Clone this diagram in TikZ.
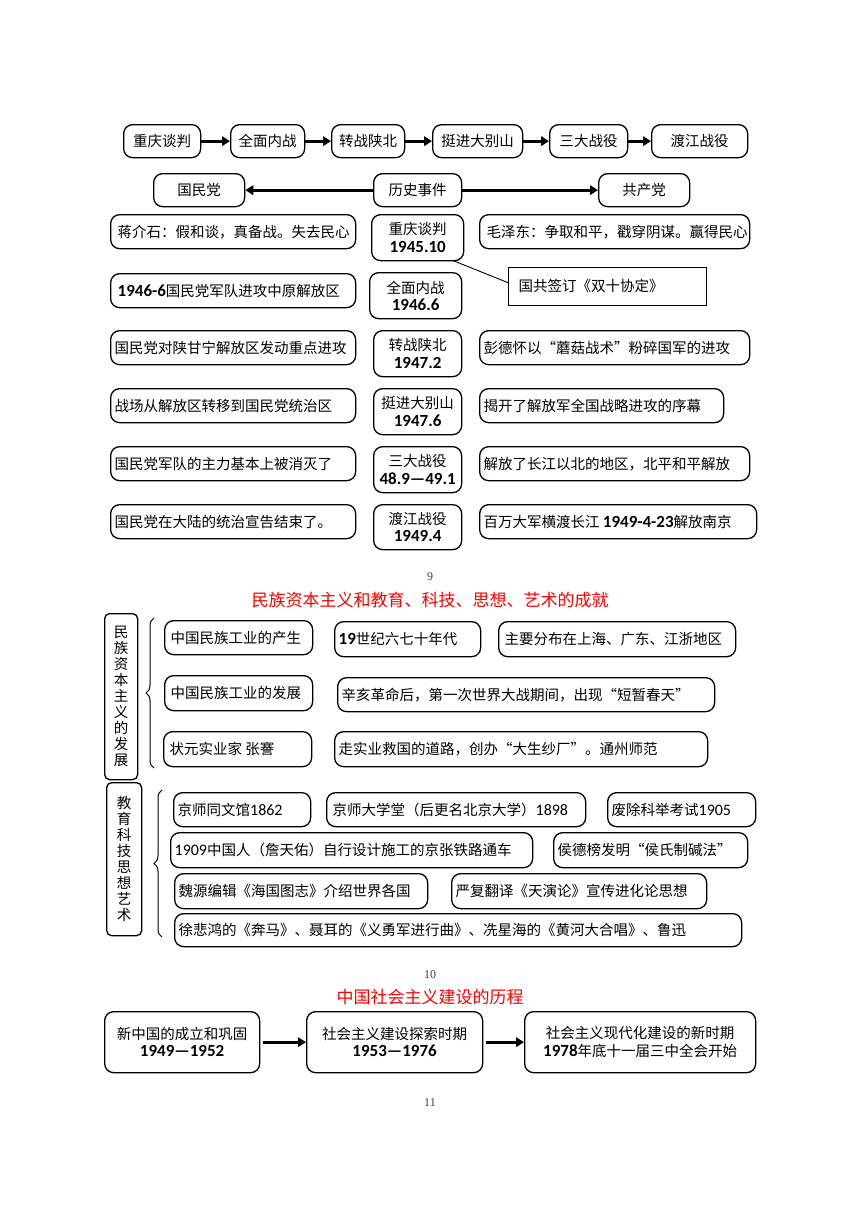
\documentclass[tikz,border=0pt]{standalone}
\usepackage{fontspec}
\setmainfont{Noto Sans CJK SC}
\newfontfamily\nm{Carlito}
\newfontfamily\pnfont{Liberation Serif}
\usetikzlibrary{arrows.meta,decorations.pathreplacing}
\newcommand\fs{\fontsize{14.5}{17.5}\selectfont}
\newcommand\nb[1]{{\nm\bfseries\fontsize{17}{17.5}\selectfont #1}}
\newcommand\nr[1]{{\nm\fontsize{16}{17.5}\selectfont #1}}
\tikzset{
  bx/.style={draw, line width=1.3pt, rounded corners=9pt, inner xsep=4pt, inner ysep=0pt, font=\fs},
  sq/.style={draw, line width=1.3pt, inner xsep=10pt, inner ysep=0pt, font=\fs},
  arr/.style={line width=3.3pt, -{Triangle[length=8pt,width=9.5pt]}},
  thin/.style={line width=0.9pt},
  brc/.style={line width=1pt, decorate, decoration={brace, amplitude=8pt}},
  pn/.style={font=\pnfont\fontsize{12}{14}\selectfont, text=black!75},
  ttl/.style={font=\fontsize{17}{20}\selectfont, text=red},
  vbox/.style={draw, line width=1.3pt, rounded corners=5pt, inner sep=0pt, align=center, font=\fontsize{14.5}{16}\selectfont},
}
\newcommand\cb[6]{\pgfmathsetmacro\bw{#4-#2}\pgfmathsetmacro\bh{#5-#3}%
  \node[bx, align=center, minimum width=\bw pt, minimum height=\bh pt, anchor=north west] (#1) at (#2,-#3) {#6};}
\newcommand\lb[6]{\pgfmathsetmacro\bw{#4-#2-8}\pgfmathsetmacro\bh{#5-#3}%
  \node[bx, minimum height=\bh pt, anchor=north west] (#1) at (#2,-#3) {\makebox[\bw pt][l]{#6}};}
\begin{document}
\begin{tikzpicture}[x=1pt,y=1pt]
\useasboundingbox (0,0) rectangle (860,-1216);
% ---- section 1: top row
\cb{t1}{123}{124}{200}{157}{重庆谈判}
\cb{t2}{230}{124}{304}{157}{全面内战}
\cb{t3}{331}{124}{404}{157}{转战陕北}
\cb{t4}{432}{124}{522}{157}{挺进大别山}
\cb{t5}{549}{124}{627}{157}{三大战役}
\cb{t6}{651}{124}{747}{157}{渡江战役}
\draw[arr] (t1) -- (t2);
\draw[arr] (t2) -- (t3);
\draw[arr] (t3) -- (t4);
\draw[arr] (t4) -- (t5);
\draw[arr] (t5) -- (t6);
% ---- row 2
\cb{gmd}{153}{173}{244}{206}{国民党}
\cb{hs}{373}{173}{461}{206}{历史事件}
\cb{gcd}{598}{173}{689}{206}{共产党}
\draw[arr] (hs) -- (gmd);
\draw[arr] (hs) -- (gcd);
% ---- rows 3-8
\lb{l1}{110}{214}{355}{248}{\hspace{3pt}蒋介石：假和谈，真备战。失去民心}
\cb{c1}{371}{214}{463}{260}{重庆谈判\\\nb{1945.10}}
\lb{r1}{479}{214}{749}{248}{\hspace{3pt}毛泽东：争取和平，戳穿阴谋。赢得民心}
\node[sq, anchor=north west, minimum height=38pt] (gq) at (508,-267) {\makebox[178pt][l]{\raisebox{3pt}{国共签订《双十协定》}}};
\coordinate (cqa) at ([xshift=-12pt,yshift=1pt]c1.south east);
\draw[thin] (cqa) -- ([yshift=4pt]gq.west);
\lb{l2}{110}{273}{355}{307}{\hspace{3pt}\nb{1946-6}国民党军队进攻中原解放区}
\cb{c2}{369}{272}{461}{318}{全面内战\\\nb{1946.6}}
\lb{l3}{110}{330}{355}{364}{国民党对陕甘宁解放区发动重点进攻}
\cb{c3}{373}{330}{461}{376}{转战陕北\\\nb{1947.2}}
\lb{r3}{479}{330}{749}{364}{彭德怀以“蘑菇战术”粉碎国军的进攻}
\lb{l4}{110}{388}{355}{422}{战场从解放区转移到国民党统治区}
\cb{c4}{373}{388}{461}{434}{挺进大别山\\\nb{1947.6}}
\lb{r4}{479}{388}{723}{422}{揭开了解放军全国战略进攻的序幕}
\lb{l5}{110}{446}{355}{480}{国民党军队的主力基本上被消灭了}
\cb{c5}{373}{446}{461}{492}{三大战役\\\nb{48.9—49.1}}
\lb{r5}{479}{446}{749}{480}{解放了长江以北的地区，北平和平解放}
\lb{l6}{110}{504}{355}{538}{国民党在大陆的统治宣告结束了。}
\cb{c6}{373}{504}{461}{549}{渡江战役\\\nb{1949.4}}
\lb{r6}{479}{504}{756}{538}{百万大军横渡长江 \nb{1949-4-23}解放南京}
% ---- section 2
\node[pn] (p9) at (430,-577) {9};
\node[ttl] (h2) at (430,-600) {民族资本主义和教育、科技、思想、艺术的成就};
\node[vbox, anchor=north west, minimum width=33pt, minimum height=166pt] (v1) at (104,-613)
  {民\\族\\资\\本\\主\\义\\的\\发\\展};
\coordinate (b1a) at (154,-768);
\coordinate (b1b) at (154,-618);
\draw[brc] (b1a) -- (b1b);
\lb{a1}{164}{620}{312}{654}{\hspace{2pt}中国民族工业的产生}
\lb{a2}{334}{621}{480}{656}{\nb{19}世纪六七十年代}
\lb{a3}{498}{621}{735}{656}{\hspace{2pt}主要分布在上海、广东、江浙地区}
\lb{b1}{164}{675}{312}{710}{\hspace{2pt}中国民族工业的发展}
\lb{b2}{337}{677}{714}{711}{辛亥革命后，第一次世界大战期间，出现“短暂春天”}
\lb{c1x}{163}{731}{311}{766}{\hspace{2pt}状元实业家 张謇}
\lb{c2x}{334}{731}{707}{766}{走实业救国的道路，创办“大生纱厂”。通州师范}
\node[vbox, anchor=north west, minimum width=35pt, minimum height=153pt] (v2) at (106,-782)
  {教\\育\\科\\技\\思\\想\\艺\\术};
\coordinate (b2a) at (162,-937);
\coordinate (b2b) at (162,-790);
\draw[brc] (b2a) -- (b2b);
\lb{d1}{173}{792}{310}{826}{京师同文馆\nr{1862}}
\lb{d2}{326}{792}{585}{826}{\hspace{2pt}京师大学堂（后更名北京大学）\nr{1898}}
\lb{d3}{607}{792}{755}{826}{废除科举考试\nr{1905}}
\lb{e1}{170}{832}{532}{867}{\nr{1909}中国人（詹天佑）自行设计施工的京张铁路通车}
\lb{e2}{553}{832}{747}{867}{侯德榜发明“侯氏制碱法”}
\lb{f1}{174}{873}{427}{908}{魏源编辑《海国图志》介绍世界各国}
\lb{f2}{451}{873}{706}{908}{严复翻译《天演论》宣传进化论思想}
\lb{g1}{174}{913}{741}{946}{徐悲鸿的《奔马》、聂耳的《义勇军进行曲》、冼星海的《黄河大合唱》、鲁迅}
% ---- section 3
\node[pn] (p10) at (430,-975) {10};
\node[ttl] (h3) at (430,-997) {中国社会主义建设的历程};
\cb{s1}{104}{1011}{259}{1072}{新中国的成立和巩固\\\nb{1949—1952}}
\cb{s2}{306}{1011}{482}{1072}{社会主义建设探索时期\\\nb{1953—1976}}
\cb{s3}{524}{1011}{755}{1072}{社会主义现代化建设的新时期\\\nb{1978}年底十一届三中全会开始}
\draw[arr, shorten <=3pt] (s1) -- (s2);
\draw[arr, shorten <=3pt] (s2) -- (s3);
\node[pn] (p11) at (430,-1103) {11};
\end{tikzpicture}
\end{document}
